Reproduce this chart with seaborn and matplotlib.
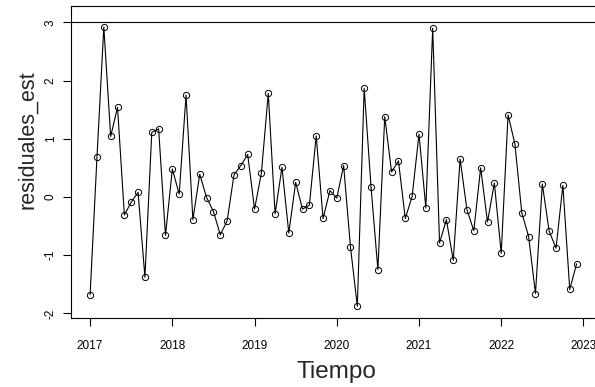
import numpy as np
import pandas as pd
import seaborn as sns
import matplotlib
matplotlib.use("Agg")
import matplotlib.pyplot as plt

# monthly standardized residuals, Jan 2017 .. Dec 2022
start_year = 2017
residuales_est = [
    -1.68, 0.68, 2.92, 1.04, 1.54, -0.31, -0.09, 0.08, -1.38, 1.11, 1.17, -0.66,
    0.48, 0.05, 1.75, -0.39, 0.39, -0.01, -0.25, -0.65, -0.41, 0.38, 0.54, 0.73,
    -0.21, 0.41, 1.78, -0.29, 0.51, -0.62, 0.25, -0.21, -0.14, 1.05, -0.37, 0.11,
    -0.02, 0.54, -0.86, -1.88, 1.87, 0.17, -1.25, 1.38, 0.43, 0.62, -0.37, 0.01,
    1.08, -0.19, 2.90, -0.79, -0.39, -1.09, 0.65, -0.22, -0.58, 0.50, -0.43, 0.24,
    -0.97, 1.41, 0.91, -0.27, -0.68, -1.66, 0.22, -0.59, -0.88, 0.20, -1.59, -1.15,
]
limite = 3
y_ticks = [-2, -1, 0, 1, 2, 3]
x_ticks = [2017, 2018, 2019, 2020, 2021, 2022, 2023]

df = pd.DataFrame({
    "Tiempo": start_year + np.arange(len(residuales_est)) / 12,
    "residuales_est": residuales_est,
})

sns.set_style("white")
plt.rcParams["font.family"] = ["Liberation Sans", "DejaVu Sans"]

fig = plt.figure(figsize=(5.95, 3.87), dpi=100)
ax = fig.add_axes([0.1187, 0.1783, 0.883, 0.806])

sns.lineplot(data=df, x="Tiempo", y="residuales_est", ax=ax, color="black",
             linewidth=0.8, marker="o", markersize=4.5, markerfacecolor="none",
             markeredgecolor="black", markeredgewidth=0.7)
ax.axhline(limite, color="black", linewidth=0.8)

ax.set_xlim(2016.763, 2023.153)
ax.set_ylim(-2.08, 3.28)
ax.set_xticks(x_ticks)
ax.set_yticks(y_ticks)
ax.set_yticklabels([str(t) for t in y_ticks], rotation=90, va="center")
ax.tick_params(axis="both", direction="out", length=6, width=0.8, labelsize=8.5,
               color="black", labelcolor="black", left=True, bottom=True)
ax.tick_params(axis="y", pad=4)
ax.tick_params(axis="x", pad=10)
for s in ax.spines.values():
    s.set_color("black")
    s.set_linewidth(0.8)

ax.set_xlabel("Tiempo", fontsize=17.5)
ax.set_ylabel("residuales_est", fontsize=15.5)
ax.xaxis.set_label_coords((336 - 70.6) / 525.4, -0.138)
ax.yaxis.set_label_coords(-0.062, (318 - 140) / 312)

fig.savefig("out.png", dpi=100, facecolor="white")
